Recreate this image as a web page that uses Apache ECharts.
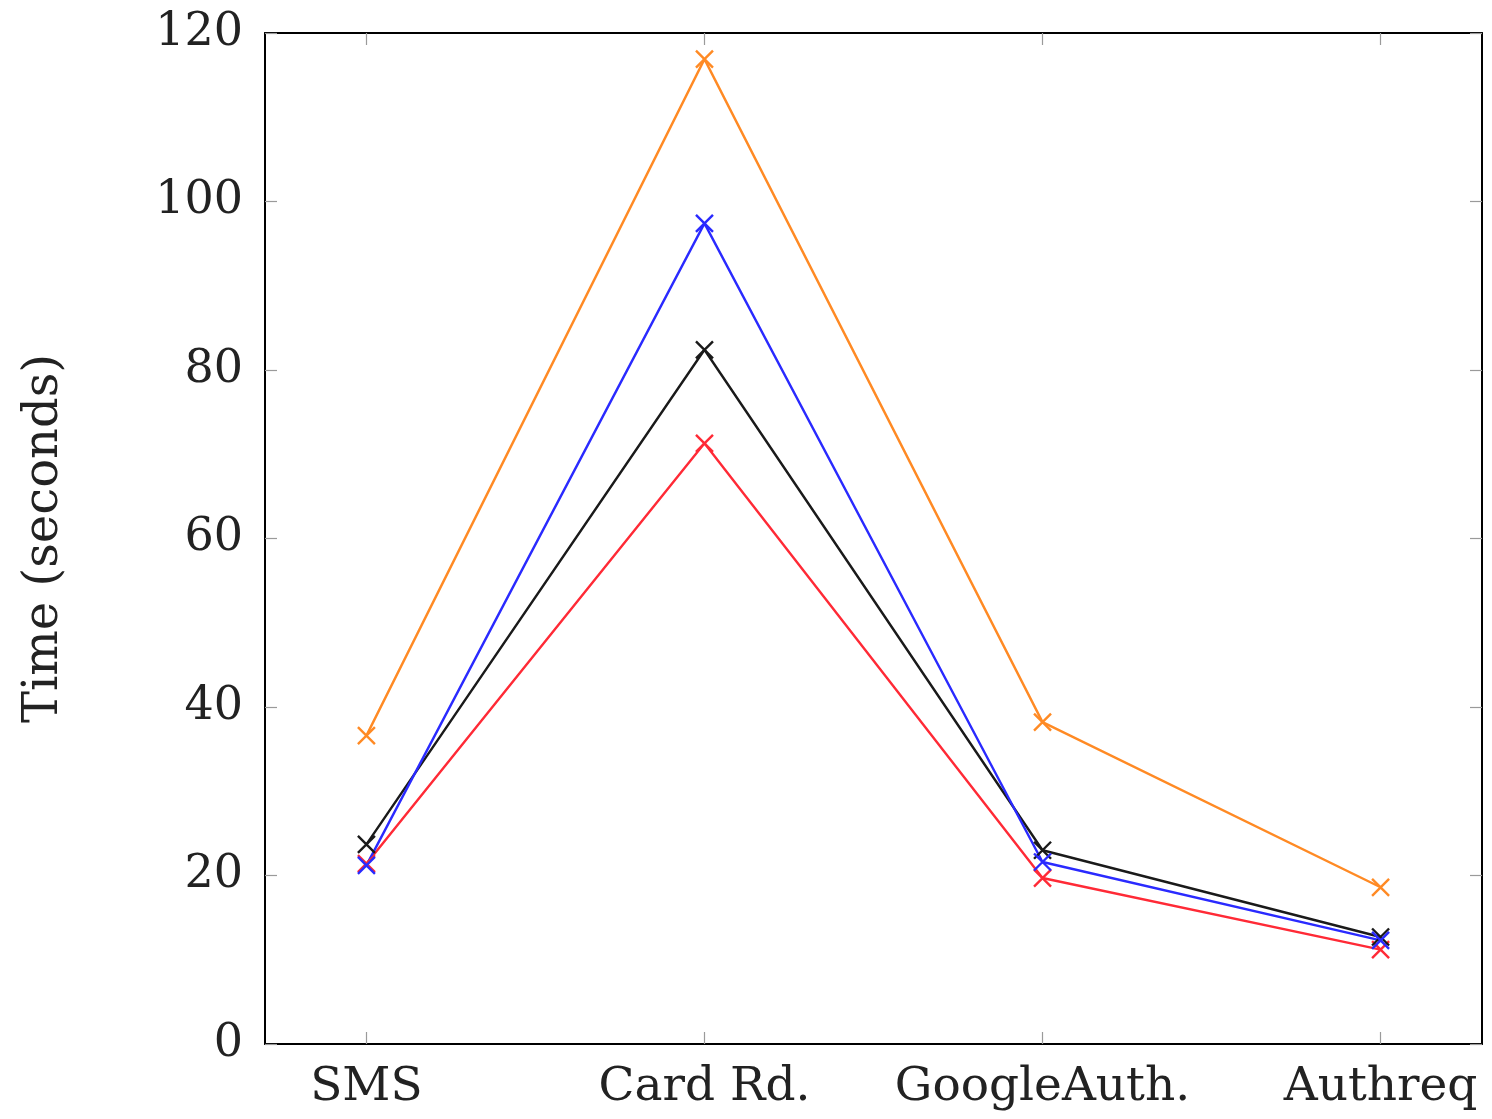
<!DOCTYPE html>
<html>
<head>
<meta charset="utf-8">
<script src="https://cdn.jsdelivr.net/npm/echarts@6/dist/echarts.min.js"></script>
<style>
  html, body { margin: 0; padding: 0; background: #fff; }
  #chart { width: 1492px; height: 1119px; }
</style>
</head>
<body>
<div id="chart"></div>
<script>
const categories = ['SMS', 'Card Rd.', 'GoogleAuth.', 'Authreq']
const orangeValues = [36.6, 116.9, 38.2, 18.6]
const blueValues = [21.2, 97.4, 21.6, 12.3]
const blackValues = [23.7, 82.4, 23.0, 12.7]
const redValues = [21.4, 71.3, 19.7, 11.2]
const yTicks = [0, 20, 40, 60, 80, 100, 120]

const font = 'DejaVu Serif'
const cross = 'path://M0,0L10,10M10,0L0,10'
const tickStyle = { show: true, inside: true, length: 12, lineStyle: { color: '#9a9a9a', width: 1.2 } }
const boxLine = { show: true, onZero: false, lineStyle: { color: '#000', width: 2 } }

function line(name, values, color) {
  return {
    name: name,
    type: 'line',
    data: values.map((v, i) => [i, v]),
    symbol: cross,
    symbolSize: 17,
    lineStyle: { color: color, width: 2.4 },
    itemStyle: { color: 'none', borderColor: color, borderWidth: 2.4 },
    emphasis: { disabled: true },
    z: 3,
  }
}

const myChart = echarts.init(document.getElementById('chart'))

myChart.setOption({
  animation: false,
  grid: { left: 265, top: 33, right: 10, bottom: 75 },
  xAxis: [
    {
      type: 'value',
      min: -0.3,
      max: 3.3,
      axisLine: boxLine,
      axisTick: Object.assign({ customValues: [0, 1, 2, 3] }, tickStyle),
      axisLabel: {
        customValues: [0, 1, 2, 3],
        formatter: (v) => categories[Math.round(v)],
        fontFamily: font,
        fontSize: 47,
        color: '#222',
        margin: 20,
      },
      splitLine: { show: false },
    },
    {
      type: 'value',
      position: 'top',
      min: -0.3,
      max: 3.3,
      axisLine: boxLine,
      axisTick: Object.assign({ customValues: [0, 1, 2, 3] }, tickStyle),
      axisLabel: { show: false },
      splitLine: { show: false },
    },
  ],
  yAxis: [
    {
      type: 'value',
      min: 0,
      max: 120,
      interval: 20,
      name: 'Time (seconds)',
      nameLocation: 'middle',
      nameGap: 196,
      nameTextStyle: { fontFamily: font, fontSize: 48, color: '#222' },
      axisLine: boxLine,
      axisTick: tickStyle,
      axisLabel: {
        fontFamily: font,
        fontSize: 46,
        color: '#222',
        margin: 22,
        formatter: (v) => (yTicks.includes(v) ? String(v) : ''),
      },
      splitLine: { show: false },
    },
    {
      type: 'value',
      position: 'right',
      min: 0,
      max: 120,
      interval: 20,
      axisLine: boxLine,
      axisTick: tickStyle,
      axisLabel: { show: false },
      splitLine: { show: false },
    },
  ],
  series: [
    line('orange', orangeValues, '#ff8a24'),
    line('red', redValues, '#ff2a36'),
    line('black', blackValues, '#1a1a1a'),
    line('blue', blueValues, '#2a2aff'),
  ],
})
</script>
</body>
</html>
